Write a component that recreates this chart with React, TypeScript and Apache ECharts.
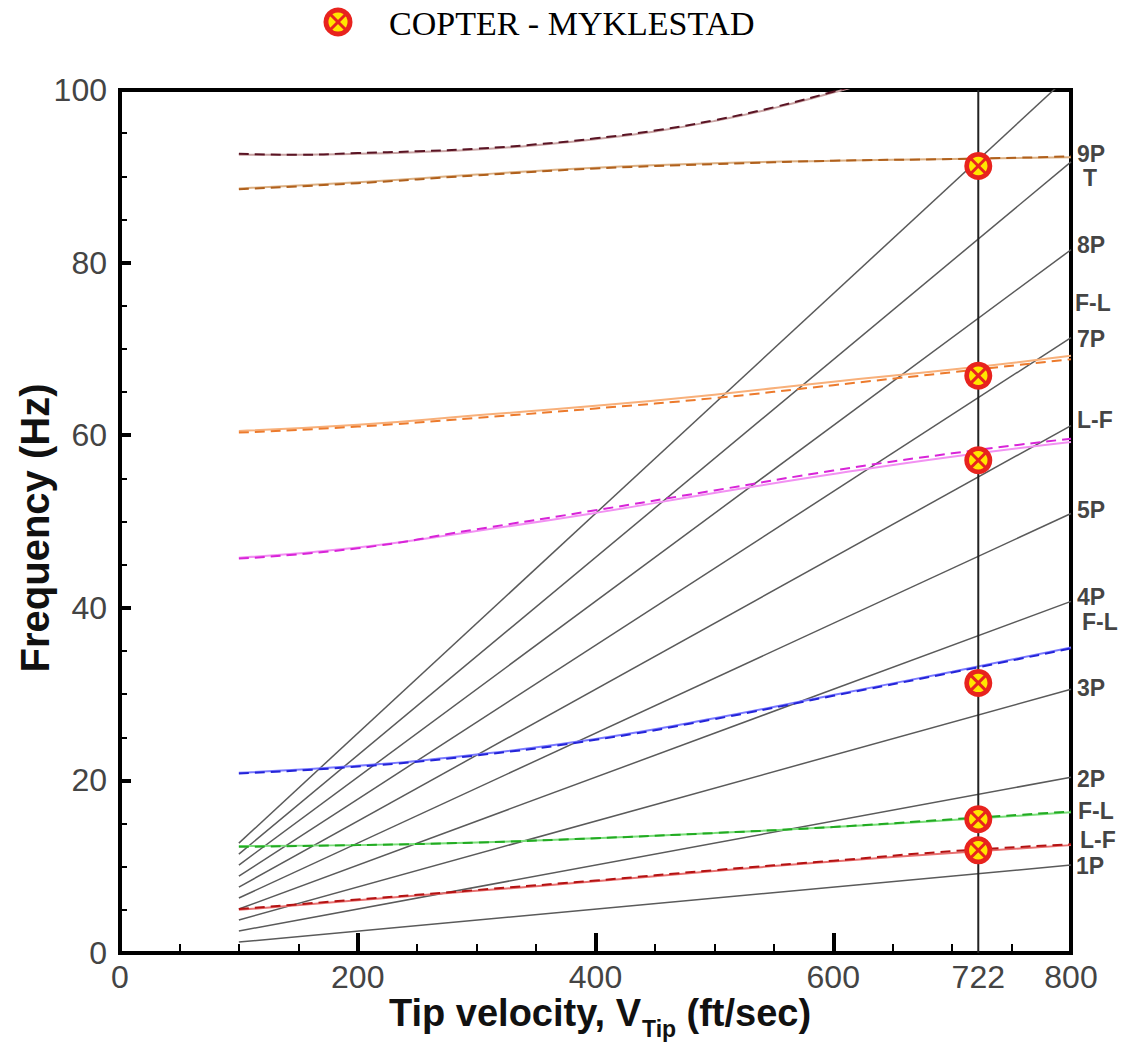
import React, { useEffect, useRef } from "react";
import * as echarts from "echarts";

// ---------------- data ----------------
const xTickLabels = [0, 200, 400, 600, 722, 800];
const majorXTicks = [200, 400, 600];

const velocity = [100, 200, 300, 400, 500, 600, 700, 800];

// top (dark) mode, runs off the top of the chart
const topModeV = [100, 150, 200, 250, 300, 350, 400, 450, 500, 550, 600, 650];
const topMode = [92.5, 92.5, 92.6, 92.8, 93.1, 93.6, 94.3, 95.2, 96.4, 97.9, 99.7, 101.6];
const topModeB = [92.6, 92.5, 92.7, 92.9, 93.2, 93.7, 94.4, 95.3, 96.5, 98.0, 99.8, 101.7];

const torsionMode = [88.6, 89.3, 90.2, 91.0, 91.5, 91.8, 92.0, 92.2];
const torsionModeB = [88.5, 89.2, 90.1, 90.9, 91.4, 91.8, 92.0, 92.3];
const orangeMode = [60.5, 61.2, 62.3, 63.4, 64.7, 66.2, 67.6, 69.2];
const orangeModeB = [60.3, 61.0, 62.0, 63.1, 64.3, 65.8, 67.3, 68.8];
const magentaMode = [45.8, 47.0, 48.9, 51.0, 53.3, 55.5, 57.5, 59.2];
const magentaModeB = [45.7, 46.9, 49.1, 51.3, 53.6, 55.9, 57.9, 59.6];
const blueMode = [20.9, 21.7, 23.0, 24.8, 27.2, 29.9, 32.6, 35.4];
const blueModeB = [20.8, 21.6, 22.9, 24.7, 27.1, 29.8, 32.5, 35.3];
const greenMode = [12.4, 12.5, 12.8, 13.3, 13.9, 14.6, 15.4, 16.3];
const greenModeB = [12.3, 12.5, 12.8, 13.3, 13.9, 14.6, 15.5, 16.4];
const redMode = [5.0, 6.1, 7.2, 8.3, 9.5, 10.6, 11.6, 12.5];
const redModeB = [5.1, 6.2, 7.3, 8.4, 9.6, 10.7, 11.8, 12.6];

// per-rev lines nP: value at V=100 and V=800
const perRevNames = ["1P", "2P", "3P", "4P", "5P", "6P", "7P", "8P", "9P", "10P"];
const perRevV = [100, 800];
const perRevStart = [1.27, 2.55, 3.82, 5.09, 6.37, 7.64, 8.91, 10.19, 11.46, 12.73];
const perRevEnd = [10.19, 20.37, 30.56, 40.74, 50.93, 61.12, 71.3, 81.49, 91.67, 101.86];

// Myklestad results at the operating tip speed
const operatingV = 722;
const myklestadFreq = [91.2, 66.9, 57.1, 31.3, 15.5, 11.9];

// right-hand labels
const rightLabelNames = ["9P", "T", "8P", "F-L", "7P", "L-F", "5P", "4P", "F-L", "3P", "2P", "F-L", "L-F", "1P"];
const rightLabelFreq = [92.6, 89.8, 82.0, 75.3, 71.1, 61.8, 51.3, 41.3, 38.4, 30.7, 20.2, 16.5, 13.1, 10.1];
// styling: extra horizontal indent of some labels (px)
const rightLabelIndent = [0, 6, 0, -2, 0, 0, 0, 0, 5, 0, 0, 1, 3, -1];

// axis titles
const yTitle = "Frequency (Hz)";
const xTitleMain = "Tip velocity, V";
const xTitleSub = "Tip";
const xTitleUnit = " (ft/sec)";
const legendName = "COPTER - MYKLESTAD";

const FONT = '"Liberation Sans", Arial, sans-serif';
const RED = "#e8231e";
const YELLOW = "#ffe600";

function markerChildren(r: number) {
  const k = r * 0.5;
  return [
    { type: "circle", shape: { cx: 0, cy: 0, r }, style: { fill: RED } },
    { type: "circle", shape: { cx: 0, cy: 0, r: r * 0.66 }, style: { fill: YELLOW } },
    { type: "line", shape: { x1: -k, y1: -k, x2: k, y2: k }, style: { stroke: RED, lineWidth: 3 } },
    { type: "line", shape: { x1: -k, y1: k, x2: k, y2: -k }, style: { stroke: RED, lineWidth: 3 } },
  ];
}

function modePair(vs: number[], a: number[], b: number[], light: string, dark: string) {
  return [
    {
      type: "line",
      data: vs.map((v, i) => [v, a[i]]),
      smooth: true,
      symbol: "none",
      lineStyle: { color: light, width: 2 },
      z: 3,
    },
    {
      type: "line",
      data: vs.map((v, i) => [v, b[i]]),
      smooth: true,
      symbol: "none",
      lineStyle: { color: dark, width: 2, type: [10, 6] },
      z: 3,
    },
  ];
}

export default function App() {
  const ref = useRef<HTMLDivElement>(null);

  useEffect(() => {
    if (!ref.current) return;
    const chart = echarts.init(ref.current, null, { renderer: "svg" });

    const perRevSeries = perRevNames.map((name, i) => ({
      type: "line",
      name,
      data: [
        [perRevV[0], perRevStart[i]],
        [perRevV[1], perRevEnd[i]],
      ],
      symbol: "none",
      lineStyle: { color: "#5a5a5a", width: 1.5 },
      z: 2,
    }));

    const titleStyle = { fontSize: 38, fontWeight: "bold", fontFamily: FONT, fill: "#111", verticalAlign: "middle" };

    const option: any = {
      animation: false,
      backgroundColor: "#fff",
      grid: {
        left: 120,
        right: 53,
        top: 90,
        bottom: 89,
        show: true,
        borderColor: "#000",
        borderWidth: 4,
        backgroundColor: "transparent",
      },
      xAxis: [
        {
          type: "value",
          min: 0,
          max: 800,
          interval: 200,
          position: "bottom",
          axisLine: { show: true, onZero: false, lineStyle: { color: "#000", width: 4 } },
          axisTick: { show: true, inside: true, length: 20, customValues: majorXTicks, lineStyle: { color: "#000", width: 4 } },
          axisLabel: { customValues: xTickLabels, fontSize: 32, color: "#444", fontFamily: FONT, margin: 8 },
          splitLine: { show: false },
        },
        {
          type: "value",
          min: 0,
          max: 800,
          interval: 50,
          position: "bottom",
          axisLine: { show: false },
          axisTick: { show: true, inside: true, length: 9, lineStyle: { color: "#000", width: 2 } },
          axisLabel: { show: false },
          splitLine: { show: false },
        },
      ],
      yAxis: [
        {
          type: "value",
          min: 0,
          max: 100,
          interval: 20,
          position: "left",
          axisLine: { show: true, onZero: false, lineStyle: { color: "#000", width: 4 } },
          axisTick: { show: true, inside: true, length: 11, lineStyle: { color: "#000", width: 4 } },
          axisLabel: { fontSize: 32, color: "#444", fontFamily: FONT, margin: 13 },
          splitLine: { show: false },
        },
        {
          type: "value",
          min: 0,
          max: 100,
          interval: 5,
          position: "left",
          axisLine: { show: false },
          axisTick: { show: true, inside: true, length: 7, lineStyle: { color: "#000", width: 2 } },
          axisLabel: { show: false },
          splitLine: { show: false },
        },
      ],
      graphic: [
        {
          type: "group",
          x: 338,
          y: 22,
          children: markerChildren(14.5),
        },
        {
          type: "text",
          x: 389,
          y: 23,
          style: {
            text: legendName,
            fontSize: 34,
            fontFamily: '"Liberation Serif", "Times New Roman", serif',
            fill: "#000",
            align: "left",
            verticalAlign: "middle",
          },
        },
        {
          type: "text",
          x: 35,
          y: 528,
          rotation: Math.PI / 2,
          style: {
            text: yTitle,
            fontSize: 40,
            fontWeight: "bold",
            fontFamily: FONT,
            fill: "#111",
            align: "center",
            verticalAlign: "middle",
          },
        },
        {
          type: "text",
          x: 641,
          y: 1013,
          style: { ...titleStyle, text: xTitleMain, align: "right" },
        },
        {
          type: "text",
          x: 642,
          y: 1029,
          style: { fontSize: 23, fontWeight: "bold", fontFamily: FONT, fill: "#111", verticalAlign: "middle", text: xTitleSub, align: "left" },
        },
        {
          type: "text",
          x: 676,
          y: 1013,
          style: { ...titleStyle, text: xTitleUnit, align: "left" },
        },
      ],
      series: [
        ...perRevSeries,
        ...modePair(topModeV, topMode, topModeB, "#c9a3a3", "#5a1424"),
        ...modePair(velocity, torsionMode, torsionModeB, "#dcb083", "#b0601c"),
        ...modePair(velocity, orangeMode, orangeModeB, "#f8b07a", "#ec7a2c"),
        ...modePair(velocity, magentaMode, magentaModeB, "#f290f2", "#d824d8"),
        ...modePair(velocity, blueMode, blueModeB, "#7a7aff", "#2424d8"),
        ...modePair(velocity, greenMode, greenModeB, "#7ade7a", "#22aa22"),
        ...modePair(velocity, redMode, redModeB, "#e87070", "#b41212"),
        {
          type: "line",
          data: [
            [operatingV, 0],
            [operatingV, 100],
          ],
          symbol: "none",
          lineStyle: { color: "#222", width: 2 },
          z: 4,
        },
        {
          type: "custom",
          name: legendName,
          data: myklestadFreq.map((f) => [operatingV, f]),
          encode: { x: 0, y: 1 },
          z: 5,
          renderItem: (params: any, api: any) => {
            const p = api.coord([api.value(0), api.value(1)]);
            return { type: "group", x: p[0], y: p[1], children: markerChildren(14) };
          },
        },
        {
          type: "scatter",
          data: rightLabelNames.map((n, i) => ({
            value: [800, rightLabelFreq[i], n],
            label: { offset: [rightLabelIndent[i], 0] },
          })),
          symbolSize: 0,
          silent: true,
          clip: false,
          z: 6,
          label: {
            show: true,
            position: "right",
            distance: 6,
            formatter: (p: any) => p.value[2],
            fontSize: 23,
            lineHeight: 18,
            fontWeight: "bold",
            fontFamily: FONT,
            color: "#111",
          },
        },
      ],
    };

    chart.setOption(option);
    return () => chart.dispose();
  }, []);

  return (
    <div
      ref={ref}
      style={{ position: "absolute", left: 0, top: 0, width: 1124, height: 1042, background: "#fff" }}
    />
  );
}
